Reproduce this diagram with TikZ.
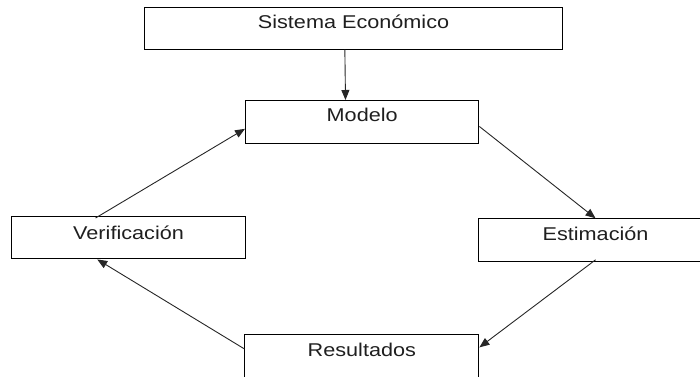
\documentclass[tikz,border=0pt]{standalone}
\usepackage{fontspec}
\setmainfont{Liberation Sans}[FakeStretch=1.17]
\usetikzlibrary{arrows.meta}
\begin{document}
\begin{tikzpicture}[x=1pt,y=1pt,
  box/.style={draw=black, line width=1.1pt, rectangle, inner sep=0pt, anchor=north west},
  lbl/.style={anchor=base, inner sep=0pt, text=black!88, font=\fontsize{18.5pt}{20pt}\selectfont},
  conn/.style={draw=black!85, line width=0.9pt, -{Triangle[length=10pt,width=8pt]}},
  plainline/.style={draw=black!85, line width=0.9pt}]
\useasboundingbox (0,0) rectangle (700,-376);
\clip (0,0) rectangle (700,-376);
% boxes
\node[box, minimum width=417.4pt, minimum height=41.2pt] (sis) at (144.3,-7.3) {};
\node[box, minimum width=233.3pt, minimum height=43.3pt] (mod) at (245,-100) {};
\node[box, minimum width=234pt, minimum height=42.3pt] (ver) at (11,-216) {};
\node[box, minimum width=234.6pt, minimum height=42.4pt] (est) at (477.7,-218.3) {};
\node[box, minimum width=234pt, minimum height=43pt] (res) at (244.3,-334.3) {};
% texts
\node[lbl] (tsis) at ([yshift=-21pt]sis.north) {Sistema Económico};
\node[lbl] (tmod) at ([yshift=-21.7pt]mod.north) {Modelo};
\node[lbl] (tver) at ([yshift=-23pt]ver.north) {Verificación};
\node[lbl] (test) at ([yshift=-21.7pt]est.north) {Estimación};
\node[lbl] (tres) at ([yshift=-22.4pt]res.north) {Resultados};
% connectors
\draw[conn] ([xshift=-8.7pt]sis.south) -- ([xshift=-16.7pt]mod.north);
\draw[conn] ([yshift=-4.3pt]mod.east) -- (est.north);
\draw[conn] ([yshift=2pt]est.south) -- ([yshift=9pt]res.east);
\draw[conn] ([yshift=7.5pt]res.west) -- ([xshift=-31.3pt]ver.south);
\draw[conn] ([xshift=-33pt,yshift=-2pt]ver.north) -- ([yshift=-6.6pt]mod.west);
\end{tikzpicture}
\end{document}
